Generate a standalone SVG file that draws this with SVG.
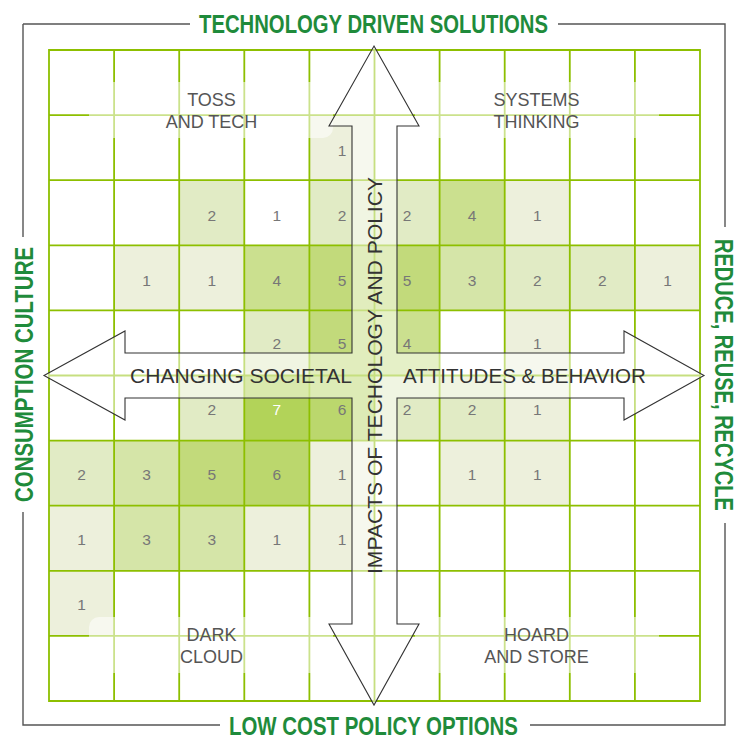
<svg xmlns="http://www.w3.org/2000/svg" width="743" height="750" viewBox="0 0 743 750">
<style>
.v1{fill:#edf0dc}.v2{fill:#e1ebc5}.v3{fill:#d5e5a8}.v4{fill:#cbe08f}.v5{fill:#c2da7b}.v6{fill:#bbd76d}.v7{fill:#b2d359}
.num{font-family:"Liberation Sans",Arial,sans-serif;font-size:15.5px;fill:#777;text-anchor:middle}
.lbl{font-family:"Liberation Sans",Arial,sans-serif;font-size:18px;fill:#555;text-anchor:middle}
.ax{font-family:"Liberation Sans",Arial,sans-serif;font-size:21px;fill:#333}
.side{font-family:"Liberation Sans",Arial,sans-serif;font-weight:bold;font-size:26px;fill:#1f8b3b;text-anchor:middle}
.frame{fill:none;stroke:#555;stroke-width:1.4}
.grid{fill:none;stroke:#8dbf00;stroke-width:1.8}
.box{fill:#fff;fill-opacity:0.55}
</style>
<rect width="743" height="750" fill="#fff"/>
<g id="frame">
<path class="frame" d="M23,24H190M558,24H725V227M725,523V725H530M220,725H23V512M23,237V24"/>
<text class="side" x="373.5" y="33" textLength="349" lengthAdjust="spacingAndGlyphs">TECHNOLOGY DRIVEN SOLUTIONS</text>
<text class="side" x="373.5" y="735" font-size="25" textLength="289" lengthAdjust="spacingAndGlyphs" style="font-size:25px">LOW COST POLICY OPTIONS</text>
<text class="side" transform="translate(33,374.5) rotate(-90)" x="0" y="0" textLength="255" lengthAdjust="spacingAndGlyphs" style="font-size:25px">CONSUMPTION CULTURE</text>
<text class="side" transform="translate(714.5,375) rotate(90)" x="0" y="0" textLength="272" lengthAdjust="spacingAndGlyphs" style="font-size:25px">REDUCE, REUSE, RECYCLE</text>
</g>
<g id="cells">
<rect class="v1" x="309.4" y="115.1" width="65.1" height="65.1"/>
<rect class="v2" x="179.2" y="180.2" width="65.1" height="65.1"/>
<rect class="v2" x="309.4" y="180.2" width="65.1" height="65.1"/>
<rect class="v2" x="374.5" y="180.2" width="65.1" height="65.1"/>
<rect class="v4" x="439.6" y="180.2" width="65.1" height="65.1"/>
<rect class="v1" x="504.7" y="180.2" width="65.1" height="65.1"/>
<rect class="v1" x="114.1" y="245.3" width="65.1" height="65.1"/>
<rect class="v1" x="179.2" y="245.3" width="65.1" height="65.1"/>
<rect class="v4" x="244.3" y="245.3" width="65.1" height="65.1"/>
<rect class="v5" x="309.4" y="245.3" width="65.1" height="65.1"/>
<rect class="v5" x="374.5" y="245.3" width="65.1" height="65.1"/>
<rect class="v3" x="439.6" y="245.3" width="65.1" height="65.1"/>
<rect class="v2" x="504.7" y="245.3" width="65.1" height="65.1"/>
<rect class="v2" x="569.8" y="245.3" width="65.1" height="65.1"/>
<rect class="v1" x="634.9" y="245.3" width="65.1" height="65.1"/>
<rect class="v2" x="244.3" y="310.4" width="65.1" height="65.1"/>
<rect class="v5" x="309.4" y="310.4" width="65.1" height="65.1"/>
<rect class="v4" x="374.5" y="310.4" width="65.1" height="65.1"/>
<rect class="v1" x="504.7" y="310.4" width="65.1" height="65.1"/>
<rect class="v2" x="179.2" y="375.5" width="65.1" height="65.1"/>
<rect class="v7" x="244.3" y="375.5" width="65.1" height="65.1"/>
<rect class="v6" x="309.4" y="375.5" width="65.1" height="65.1"/>
<rect class="v2" x="374.5" y="375.5" width="65.1" height="65.1"/>
<rect class="v2" x="439.6" y="375.5" width="65.1" height="65.1"/>
<rect class="v1" x="504.7" y="375.5" width="65.1" height="65.1"/>
<rect class="v2" x="49" y="440.6" width="65.1" height="65.1"/>
<rect class="v3" x="114.1" y="440.6" width="65.1" height="65.1"/>
<rect class="v5" x="179.2" y="440.6" width="65.1" height="65.1"/>
<rect class="v6" x="244.3" y="440.6" width="65.1" height="65.1"/>
<rect class="v1" x="309.4" y="440.6" width="65.1" height="65.1"/>
<rect class="v1" x="439.6" y="440.6" width="65.1" height="65.1"/>
<rect class="v1" x="504.7" y="440.6" width="65.1" height="65.1"/>
<rect class="v1" x="49" y="505.7" width="65.1" height="65.1"/>
<rect class="v3" x="114.1" y="505.7" width="65.1" height="65.1"/>
<rect class="v3" x="179.2" y="505.7" width="65.1" height="65.1"/>
<rect class="v1" x="244.3" y="505.7" width="65.1" height="65.1"/>
<rect class="v1" x="309.4" y="505.7" width="65.1" height="65.1"/>
<rect class="v1" x="49" y="570.8" width="65.1" height="65.1"/>
</g>
<g id="grid">
<path class="grid" d="M49,50H700V701H49Z M114.1,50V701M179.2,50V701M244.3,50V701M309.4,50V701M374.5,50V701M439.6,50V701M504.7,50V701M569.8,50V701M634.9,50V701 M49,115.1H700M49,180.2H700M49,245.3H700M49,310.4H700M49,375.5H700M49,440.6H700M49,505.7H700M49,570.8H700M49,635.9H700"/>
</g>
<g id="label-boxes">
<rect class="box" x="89" y="82" width="244" height="56" rx="10"/>
<rect class="box" x="415" y="82" width="244" height="56" rx="10"/>
<rect class="box" x="89" y="617" width="244" height="56" rx="10"/>
<rect class="box" x="415" y="617" width="244" height="56" rx="10"/>
</g>
<g id="connectors">
<polygon points="374,46 419,126 397,126 397,353 624,353 624,331 704,375.5 624,420 624,398 397,398 397,624 419,624 374,705 329,624 352,624 352,398 125,398 125,420 44,375.5 125,331 125,353 352,353 352,126 329,126" fill="#fff" fill-opacity="0.5" stroke="#333" stroke-width="1.1" stroke-linejoin="miter"/>
</g>
<g id="numbers">
<text class="num" x="341.95" y="156">1</text>
<text class="num" x="211.75" y="221">2</text>
<text class="num" x="276.85" y="221">1</text>
<text class="num" x="341.95" y="221">2</text>
<text class="num" x="407.05" y="221">2</text>
<text class="num" x="472.15" y="221">4</text>
<text class="num" x="537.25" y="221">1</text>
<text class="num" x="146.65" y="286">1</text>
<text class="num" x="211.75" y="286">1</text>
<text class="num" x="276.85" y="286">4</text>
<text class="num" x="341.95" y="286">5</text>
<text class="num" x="407.05" y="286">5</text>
<text class="num" x="472.15" y="286">3</text>
<text class="num" x="537.25" y="286">2</text>
<text class="num" x="602.35" y="286">2</text>
<text class="num" x="667.45" y="286">1</text>
<text class="num" x="276.85" y="349">2</text>
<text class="num" x="341.95" y="349">5</text>
<text class="num" x="407.05" y="349">4</text>
<text class="num" x="537.25" y="349">1</text>
<text class="num" x="211.75" y="415">2</text>
<text class="num" x="276.85" y="415" style="fill:#fff">7</text>
<text class="num" x="341.95" y="415">6</text>
<text class="num" x="407.05" y="415">2</text>
<text class="num" x="472.15" y="415">2</text>
<text class="num" x="537.25" y="415">1</text>
<text class="num" x="81.55" y="479.5">2</text>
<text class="num" x="146.65" y="479.5">3</text>
<text class="num" x="211.75" y="479.5">5</text>
<text class="num" x="276.85" y="479.5">6</text>
<text class="num" x="341.95" y="479.5">1</text>
<text class="num" x="472.15" y="479.5">1</text>
<text class="num" x="537.25" y="479.5">1</text>
<text class="num" x="81.55" y="544.5">1</text>
<text class="num" x="146.65" y="544.5">3</text>
<text class="num" x="211.75" y="544.5">3</text>
<text class="num" x="276.85" y="544.5">1</text>
<text class="num" x="341.95" y="544.5">1</text>
<text class="num" x="81.55" y="609.5">1</text>
</g>
<g id="toss-and-tech"><text class="lbl" x="211.5" y="106">TOSS</text><text class="lbl" x="211.5" y="128">AND TECH</text></g>
<g id="systems-thinking"><text class="lbl" x="536.5" y="106">SYSTEMS</text><text class="lbl" x="536.5" y="128">THINKING</text></g>
<g id="dark-cloud"><text class="lbl" x="211.5" y="641">DARK</text><text class="lbl" x="211.5" y="663">CLOUD</text></g>
<g id="hoard-and-store"><text class="lbl" x="536.5" y="641">HOARD</text><text class="lbl" x="536.5" y="663">AND STORE</text></g>
<g id="axis-labels">
<text class="ax" x="130" y="383" textLength="222" lengthAdjust="spacingAndGlyphs">CHANGING SOCIETAL</text>
<text class="ax" x="403" y="383" textLength="243" lengthAdjust="spacingAndGlyphs">ATTITUDES &amp; BEHAVIOR</text>
<text class="ax" transform="translate(382,375.5) rotate(-90)" x="0" y="0" text-anchor="middle" textLength="397" lengthAdjust="spacingAndGlyphs">IMPACTS OF TECHOLOGY AND POLICY</text>
</g>
</svg>
